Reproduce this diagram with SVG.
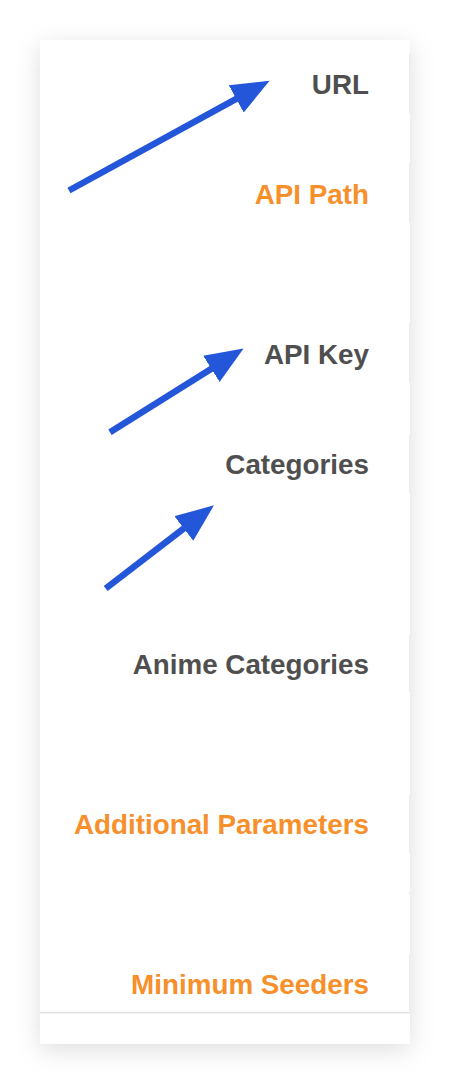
<svg xmlns="http://www.w3.org/2000/svg" width="450" height="1084" viewBox="0 0 450 1084">
  <style>
    .lbl { font-family: "Liberation Sans", Arial, sans-serif; font-weight: bold; font-size: 27.8px; text-anchor: end; }
    .gray { fill: #4f4f4f; }
    .orange { fill: #f78f2b; }
    .arrow { stroke: #2356d8; stroke-width: 6.5; fill: none; stroke-linecap: butt; }
    .edge { stroke: #ececec; stroke-width: 1; }
  </style>
  <defs>
    <filter id="shadow" x="-30%" y="-10%" width="160%" height="120%">
      <feDropShadow dx="0" dy="6" stdDeviation="12" flood-color="#000000" flood-opacity="0.13"/>
    </filter>
    <marker id="head" markerUnits="userSpaceOnUse" markerWidth="40" markerHeight="32" refX="0.5" refY="15.5" orient="auto" viewBox="0 0 40 32">
      <path d="M0,0 L38,15.5 L0,31 Z" fill="#2356d8"/>
    </marker>
  </defs>
  <rect x="0" y="0" width="450" height="1084" fill="#ffffff"/>
  <g id="card">
    <rect x="40" y="40" width="370" height="1004" fill="#ffffff" filter="url(#shadow)"/>
    <rect x="40" y="1011.8" width="370" height="1.6" fill="#e2e2e2"/>
    <g id="row-edges">
      <line class="edge" x1="409.5" y1="53" x2="409.5" y2="113"/>
      <line class="edge" x1="409.5" y1="163" x2="409.5" y2="223"/>
      <line class="edge" x1="409.5" y1="323" x2="409.5" y2="383"/>
      <line class="edge" x1="409.5" y1="435" x2="409.5" y2="493"/>
      <line class="edge" x1="409.5" y1="635" x2="409.5" y2="692"/>
      <line class="edge" x1="409.5" y1="795" x2="409.5" y2="853"/>
      <line class="edge" x1="409.5" y1="892" x2="409.5" y2="895"/>
      <line class="edge" x1="409.5" y1="954" x2="409.5" y2="1011"/>
    </g>
  </g>
  <g id="url"><text class="lbl gray" x="369" y="94">URL</text></g>
  <g id="api-path"><text class="lbl orange" x="369" y="204">API Path</text></g>
  <g id="api-key"><text class="lbl gray" x="369" y="364">API Key</text></g>
  <g id="categories"><text class="lbl gray" x="369" y="474">Categories</text></g>
  <g id="anime-categories"><text class="lbl gray" x="369" y="674">Anime Categories</text></g>
  <g id="additional-parameters"><text class="lbl orange" x="369" y="834">Additional Parameters</text></g>
  <g id="minimum-seeders"><text class="lbl orange" x="369" y="994">Minimum Seeders</text></g>
  <g id="connectors">
    <line class="arrow" x1="69" y1="190.5" x2="236.7" y2="98.7" marker-end="url(#head)"/>
    <line class="arrow" x1="110" y1="432.3" x2="211.8" y2="368.5" marker-end="url(#head)"/>
    <line class="arrow" x1="105.7" y1="588.5" x2="184.2" y2="528.2" marker-end="url(#head)"/>
  </g>
</svg>
